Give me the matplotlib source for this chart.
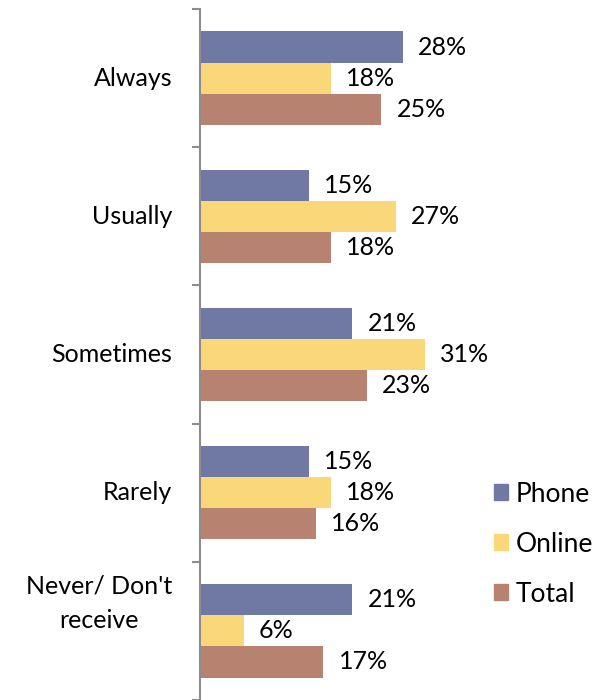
import matplotlib.pyplot as plt
import matplotlib.patches as mpatches
import numpy as np

categories = ["Always", "Usually", "Sometimes", "Rarely", "Never/ Don't\nreceive"]
phone = [28, 15, 21, 15, 21]
online = [18, 27, 31, 18, 6]
total = [25, 18, 23, 16, 17]

series_names = ["Phone", "Online", "Total"]
colors = ["#7079A3", "#FAD87A", "#B7826F"]

plt.rcParams["font.family"] = ["Lato", "DejaVu Sans"]
FS = 18

fig = plt.figure(figsize=(6.05, 7.0), dpi=100)
fig.patch.set_facecolor("white")
ax = fig.add_axes([200 / 605, 0.0, 270 / 605, 1 - 9 / 700])

y = np.arange(len(categories))
bar_h = 0.225
for k, (vals, color) in enumerate(zip([phone, online, total], colors)):
    pos = y + (k - 1) * bar_h
    ax.barh(pos, vals, height=bar_h, color=color, edgecolor="none")
    for p, v in zip(pos, vals):
        ax.annotate(f"{v}%", xy=(v, p), xytext=(11, 0), textcoords="offset points",
                    ha="left", va="center", fontsize=FS, color="black")

ax.set_xlim(0, 270 / 7.25)
ax.set_ylim(len(categories) - 0.5, -0.5)

# category boundaries carry the tick marks
ax.set_yticks(np.arange(len(categories) + 1) - 0.5)
ax.set_yticklabels([])
ax.tick_params(axis="y", direction="out", length=6, width=1.5, color="#8C8C8C")
ax.set_xticks([])

# category labels, drawn beside the axis
label_shift = [0, 0, 0, 0, 20]
for i, cat in enumerate(categories):
    ax.annotate(cat, xy=(0, i), xycoords=ax.get_yaxis_transform(),
                xytext=(-20, label_shift[i]), textcoords="offset points",
                ha="right", va="center", multialignment="center",
                fontsize=FS, linespacing=1.6)

for side in ["top", "right", "bottom"]:
    ax.spines[side].set_visible(False)
ax.spines["left"].set_color("#8C8C8C")
ax.spines["left"].set_linewidth(1.5)

handles = [mpatches.Patch(color=c, label=n) for n, c in zip(series_names, colors)]
fig.legend(handles=handles, loc="upper left", bbox_to_anchor=(483 / 605, 1 - 471 / 700),
           frameon=False, fontsize=FS + 1, handlelength=0.55, handleheight=0.55,
           handletextpad=0.3, labelspacing=0.95, borderaxespad=0)

fig.savefig("out.png", dpi=100, facecolor="white")
